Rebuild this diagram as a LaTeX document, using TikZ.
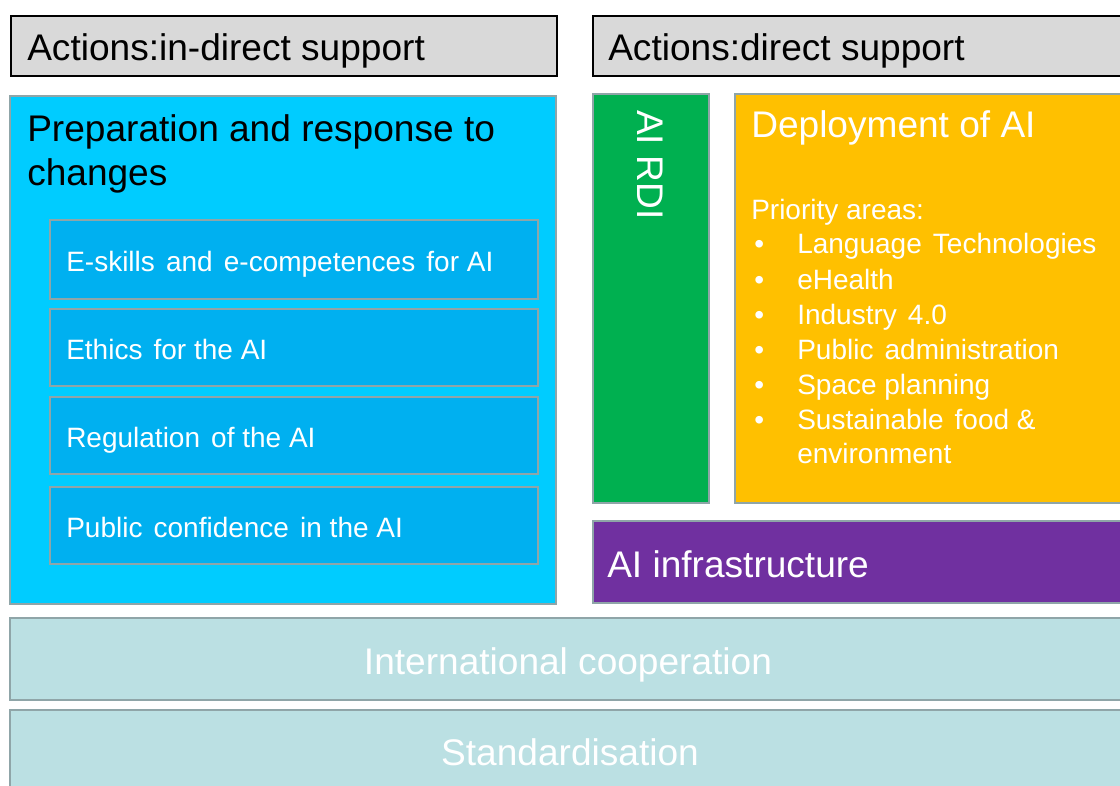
\documentclass[tikz,border=0pt]{standalone}
\usepackage{fontspec}
\setmainfont{Liberation Sans}
\usetikzlibrary{fit}
\definecolor{hdrgray}{HTML}{D9D9D9}
\definecolor{edge}{HTML}{8FA5A8}
\definecolor{prepcyan}{HTML}{00CCFF}
\definecolor{skillblue}{HTML}{00B0F0}
\definecolor{rdigreen}{HTML}{00B050}
\definecolor{deporange}{HTML}{FFC000}
\definecolor{infrapurple}{HTML}{7030A0}
\definecolor{basetea}{HTML}{BBE0E3}
% slightly wider word gap used in the list texts
\newcommand{\wgap}{\ \hspace{0.12em}}
\begin{document}
\begin{tikzpicture}[x=0.75pt,y=-0.75pt,
  box/.style={draw=edge, line width=1.5pt, inner sep=0pt, outer sep=0pt},
  hdr/.style={draw=black, line width=1.5pt, fill=hdrgray, inner sep=0pt, outer sep=0pt},
  big/.style={font=\fontsize{27.8}{33}\selectfont, inner sep=0pt, anchor=base west},
  small/.style={font=\fontsize{21}{26}\selectfont, inner sep=0pt, anchor=base west},
  wtxt/.style={text=white},
]
\useasboundingbox (0,0) rectangle (1120,785);
\clip (0,0) rectangle (1120,785);

% header bars
\node[hdr, fit={(11,16) (557,76)}] (hdrL) {};
\node[hdr, fit={(593,16) (1135,76)}] (hdrR) {};
\node[big] (hdrLtxt) at (27,60) {Actions:in-direct support};
\node[big] (hdrRtxt) at (608,60) {Actions:direct support};

% indirect support column
\node[box, fill=prepcyan, fit={(10,96) (556,604)}] (prep) {};
\node[big] (prep1) at (27,141) {Preparation and response to};
\node[big] (prep2) at (27,185) {changes};

\node[box, fill=skillblue, fit={(50,220) (538,299)}] (sk1) {};
\node[box, fill=skillblue, fit={(50,309) (538,386)}] (sk2) {};
\node[box, fill=skillblue, fit={(50,397) (538,474)}] (sk3) {};
\node[box, fill=skillblue, fit={(50,487) (538,564)}] (sk4) {};
\node[small, wtxt] (sk1t) at (66,271) {E-skills\wgap and\wgap e-competences\wgap for AI};
\node[small, wtxt] (sk2t) at (66,359) {Ethics\wgap for the AI};
\node[small, wtxt] (sk3t) at (66,447) {Regulation\wgap of the AI};
\node[small, wtxt] (sk4t) at (66,537) {Public\wgap confidence\wgap in the AI};

% direct support column
\node[box, fill=rdigreen, fit={(593,94) (709,503)}] (rdi) {};
\node[big, wtxt, rotate=-90] (rditxt) at (637,110) {AI RDI};

\node[box, fill=deporange, fit={(735,94) (1135,503)}] (dep) {};
\node[big, wtxt] (deptxt) at (751,137) {Deployment of AI};
\node[small, wtxt] (prio) at (751,219) {Priority areas:};
\foreach \y/\t [count=\i] in {253/Language\wgap Technologies, 289/eHealth, 324/Industry\wgap 4.0,
    359/Public\wgap administration, 394/Space planning, 429/Sustainable\wgap food \&} {
  \node[small, wtxt] (bul\i) at (754,\y) {\textbullet};
  \node[small, wtxt] (item\i) at (797,\y) {\t};
}
\node[small, wtxt] (item7) at (797,463) {environment};

\node[box, fill=infrapurple, fit={(593,521) (1135,603)}] (infra) {};
\node[big, wtxt] (infratxt) at (607,577) {AI infrastructure};

% cross-cutting layers
\node[box, fill=basetea, fit={(10,618) (1135,700)}] (intl) {};
\node[big, wtxt, anchor=base] (intltxt) at (568,674) {International cooperation};
\node[box, fill=basetea, fit={(10,710) (1135,800)}] (std) {};
\node[big, wtxt, anchor=base] (stdtxt) at (570,765) {Standardisation};
\end{tikzpicture}
\end{document}
